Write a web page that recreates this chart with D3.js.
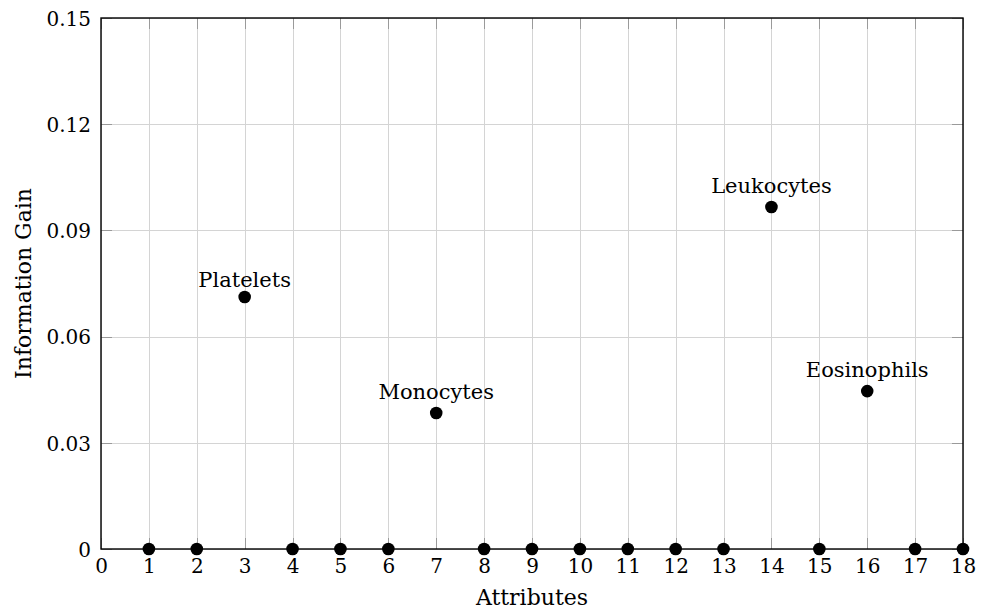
<!DOCTYPE html>
<html>
<head>
<meta charset="utf-8">
<script src="https://cdn.jsdelivr.net/npm/d3@7"></script>
<style>
  html, body { margin: 0; padding: 0; background: #fff; }
  svg { display: block; }
  text { font-family: "DejaVu Serif", "Liberation Serif", serif; fill: #000; }
</style>
</head>
<body>
<svg id="chart" width="989" height="611"></svg>
<script>
// Information gain per attribute (attributes 1..18)
const attributes = [1, 2, 3, 4, 5, 6, 7, 8, 9, 10, 11, 12, 13, 14, 15, 16, 17, 18];
const gains = [0, 0, 0.0712, 0, 0, 0, 0.0384, 0, 0, 0, 0, 0, 0, 0.0966, 0, 0.0446, 0, 0];

// Named attributes annotated above their points
const labelAttrs = [3, 7, 14, 16];
const labelNames = ["Platelets", "Monocytes", "Leukocytes", "Eosinophils"];

const xTicks = d3.range(0, 19);
const yTicks = [0, 0.03, 0.06, 0.09, 0.12, 0.15];

const W = 989, H = 611;
const margin = { left: 101, right: 26, top: 18, bottom: 62 };
const svg = d3.select("#chart");

const x = d3.scaleLinear().domain([0, 18]).range([margin.left, W - margin.right]);
const y = d3.scaleLinear().domain([0, 0.15]).range([H - margin.bottom, margin.top]);

const x0 = x.range()[0], x1 = x.range()[1];
const y0 = y.range()[0], y1 = y.range()[1];

// Grid
const grid = svg.append("g").attr("stroke", "#d4d4d4").attr("stroke-width", 1);
grid.selectAll("line.vx").data(xTicks).join("line")
  .attr("x1", d => Math.round(x(d)) + 0.5).attr("x2", d => Math.round(x(d)) + 0.5)
  .attr("y1", y1).attr("y2", y0);
grid.selectAll("line.hy").data(yTicks).join("line")
  .attr("y1", d => Math.round(y(d)) + 0.5).attr("y2", d => Math.round(y(d)) + 0.5)
  .attr("x1", x0).attr("x2", x1);

// Inner tick marks on all four sides
const tickLen = 11;
const ticks = svg.append("g").attr("stroke", "#9a9a9a").attr("stroke-width", 1);
xTicks.forEach(d => {
  const px = Math.round(x(d)) + 0.5;
  ticks.append("line").attr("x1", px).attr("x2", px).attr("y1", y0).attr("y2", y0 - tickLen);
  ticks.append("line").attr("x1", px).attr("x2", px).attr("y1", y1).attr("y2", y1 + tickLen);
});
yTicks.forEach(d => {
  const py = Math.round(y(d)) + 0.5;
  ticks.append("line").attr("x1", x0).attr("x2", x0 + tickLen).attr("y1", py).attr("y2", py);
  ticks.append("line").attr("x1", x1).attr("x2", x1 - tickLen).attr("y1", py).attr("y2", py);
});

// Axis box
svg.append("rect")
  .attr("x", x0).attr("y", y1)
  .attr("width", x1 - x0).attr("height", y0 - y1)
  .attr("fill", "none").attr("stroke", "#000").attr("stroke-width", 1.4);

// Tick labels via d3 axes (lines hidden, labels only)
const fs = 20;
const xAxis = svg.append("g")
  .attr("transform", `translate(0,${y0})`)
  .call(d3.axisBottom(x).tickValues(xTicks).tickFormat(d3.format("d")).tickSize(0).tickPadding(0));
xAxis.select(".domain").remove();
xAxis.selectAll("text").attr("font-size", fs).attr("dy", null).attr("y", 24)
  .attr("font-family", '"DejaVu Serif", serif');

const yAxis = svg.append("g")
  .attr("transform", `translate(${x0},0)`)
  .call(d3.axisLeft(y).tickValues(yTicks).tickFormat(d => d === 0 ? "0" : d3.format(".2f")(d)).tickSize(0).tickPadding(10));
yAxis.select(".domain").remove();
yAxis.selectAll("text").attr("font-size", fs).attr("dy", "0.36em")
  .attr("font-family", '"DejaVu Serif", serif');

// Points
const pts = attributes.map((a, i) => ({ a, g: gains[i] }));
svg.append("g").selectAll("circle").data(pts).join("circle")
  .attr("cx", d => x(d.a)).attr("cy", d => y(d.g)).attr("r", 6.3).attr("fill", "#000");

// Point annotations: anchored above, text box bottom accounts for descenders
svg.append("g").selectAll("text").data(labelAttrs.map((a, i) => ({ a, name: labelNames[i], g: gains[attributes.indexOf(a)] })))
  .join("text")
  .attr("x", d => x(d.a))
  .attr("y", d => y(d.g) - 10 - (/[gjpqy]/.test(d.name) ? 4.5 : 0))
  .attr("text-anchor", "middle")
  .attr("font-size", 21)
  .text(d => d.name);

// Axis titles
svg.append("text")
  .attr("x", (x0 + x1) / 2).attr("y", 605)
  .attr("text-anchor", "middle").attr("font-size", 22)
  .text("Attributes");

svg.append("text")
  .attr("transform", `translate(31,${(y0 + y1) / 2}) rotate(-90)`)
  .attr("text-anchor", "middle").attr("font-size", 22)
  .text("Information Gain");
</script>
</body>
</html>
